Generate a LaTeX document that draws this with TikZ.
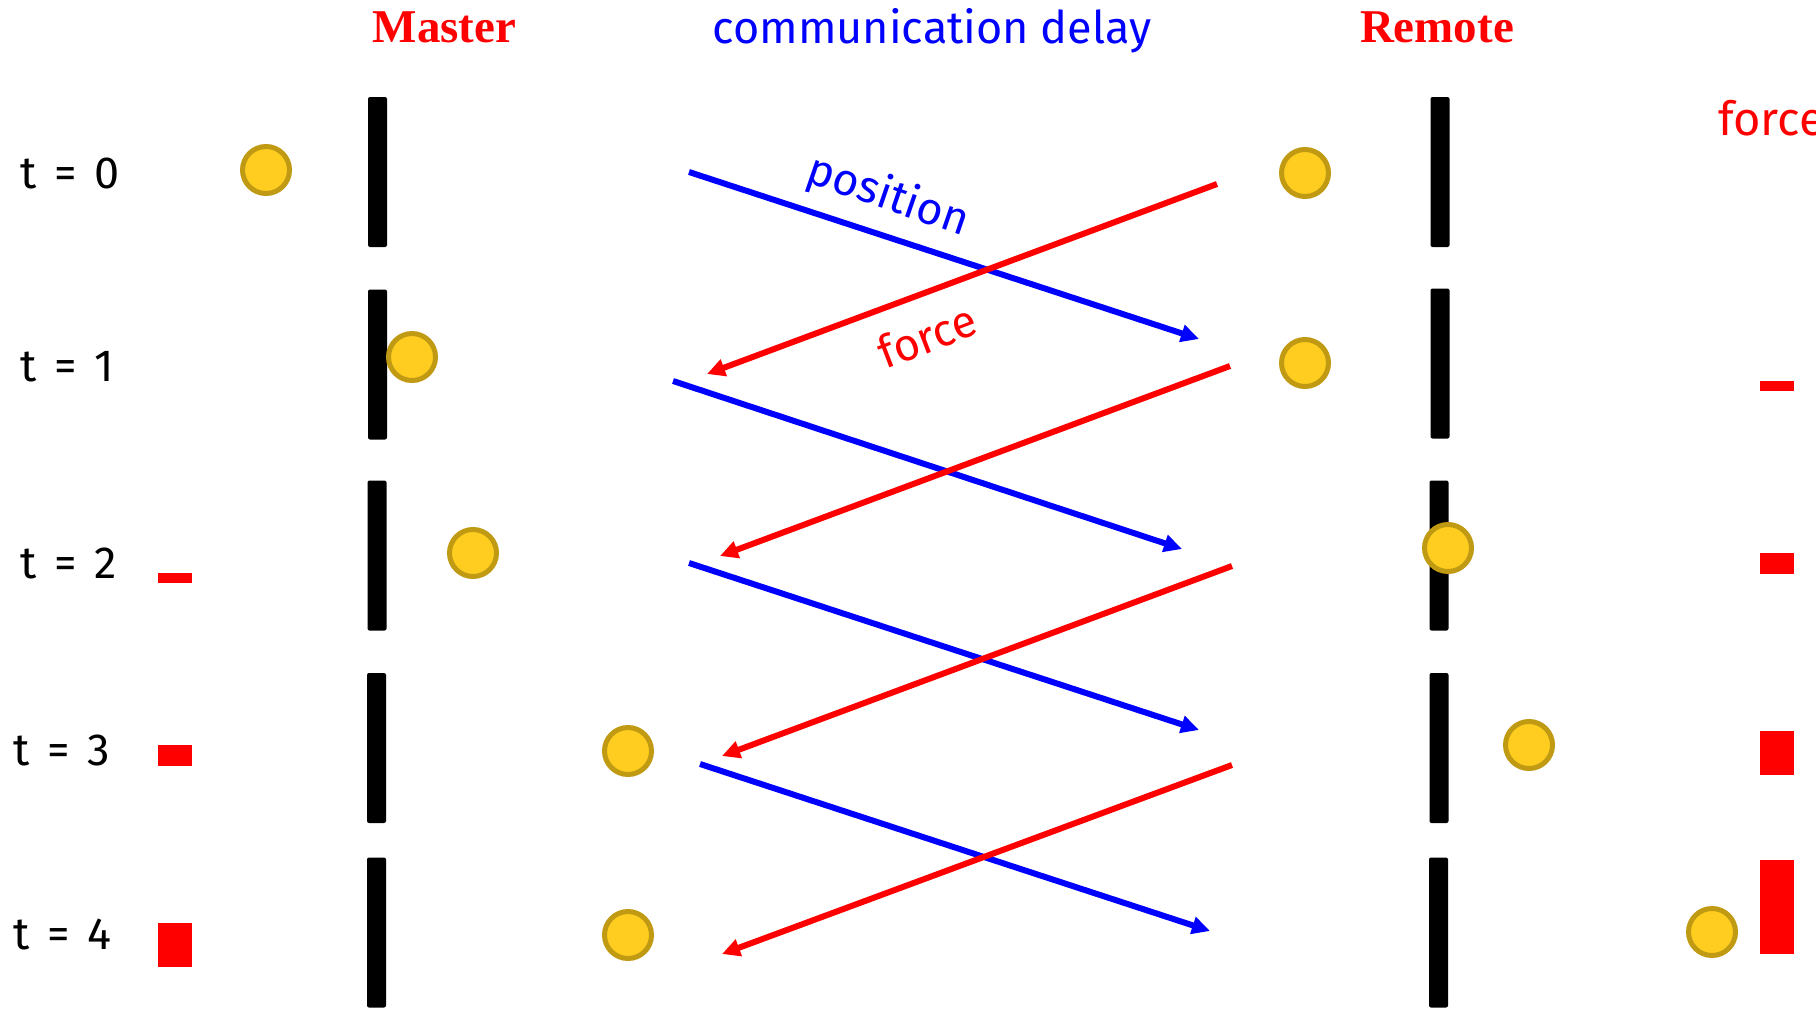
\documentclass[tikz,border=0pt]{standalone}
\usepackage{fontspec}
\setmainfont{Fira Sans}
\newfontfamily\titlefont{Liberation Serif}
\usetikzlibrary{arrows.meta}
\definecolor{ballfill}{RGB}{255,205,32}
\definecolor{balldraw}{RGB}{192,154,18}
\newcommand{\tsp}{\hspace{0.4em}}
\begin{document}
\begin{tikzpicture}[x=1pt,y=-1pt,
  wall/.style={rectangle, fill=black, rounded corners=2pt, minimum width=19pt, minimum height=150pt, inner sep=0pt},
  ball/.style={circle, fill=ballfill, draw=balldraw, line width=5pt, minimum size=47pt, inner sep=0pt},
  fbar/.style={rectangle, fill=red, inner sep=0pt, minimum width=34pt},
  tlabel/.style={anchor=base west, inner sep=0pt, font=\fontsize{45}{50}\selectfont},
  head/.style={anchor=base, inner sep=0pt, text=red, font=\titlefont\bfseries\fontsize{47}{50}\selectfont},
  posarrow/.style={line width=6pt, blue, -{Triangle[length=18pt,width=17pt]}},
  forcearrow/.style={line width=6pt, red, -{Triangle[length=18pt,width=17pt]}},
]
\useasboundingbox (0,0) rectangle (1816,1009);
\clip (0,0) rectangle (1816,1009);

% headers
\node[head] (master) at (444.5,42) {Master};
\node[head] (remote) at (1437,42) {Remote};
\node[anchor=base, inner sep=0pt, text=blue, font=\fontsize{45}{50}\selectfont] (delay) at (932,43) {communication delay};
\node[anchor=base west, inner sep=0pt, text=red, font=\fontsize{47}{50}\selectfont] (forcetop) at (1718,135) {force};

% time labels
\node[tlabel] (t0) at (20,188) {t\tsp=\tsp0};
\node[tlabel] (t1) at (20,381) {t\tsp=\tsp1};
\node[tlabel] (t2) at (20,578) {t\tsp=\tsp2};
\node[tlabel] (t3) at (13,765) {t\tsp=\tsp3};
\node[tlabel] (t4) at (13,949) {t\tsp=\tsp4};

% walls
\node[wall] (mw0) at (377.5,172) {};
\node[wall] (mw1) at (377.5,364.5) {};
\node[wall] (mw2) at (377,555.5) {};
\node[wall] (mw3) at (376.5,748) {};
\node[wall] (mw4) at (376.5,932.5) {};
\node[wall] (rw0) at (1440,172) {};
\node[wall] (rw1) at (1440,363.5) {};
\node[wall] (rw2) at (1439,555.5) {};
\node[wall] (rw3) at (1439,748) {};
\node[wall] (rw4) at (1438.5,932.5) {};

% force bars
\node[fbar, minimum height=10pt] (lf2) at (175,578) {};
\node[fbar, minimum height=21pt] (lf3) at (175,755.5) {};
\node[fbar, minimum height=44pt] (lf4) at (175,945) {};
\node[fbar, minimum height=10pt] (rf1) at (1777,386) {};
\node[fbar, minimum height=21pt] (rf2) at (1777,563.5) {};
\node[fbar, minimum height=44pt] (rf3) at (1777,753) {};
\node[fbar, minimum height=94pt] (rf4) at (1777,907) {};

% balls
\node[ball] (mb0) at (266,170) {};
\node[ball] (mb1) at (412,357) {};
\node[ball] (mb2) at (473,553) {};
\node[ball] (mb3) at (628,751) {};
\node[ball] (mb4) at (628,935) {};
\node[ball] (rb0) at (1305,173) {};
\node[ball] (rb1) at (1305,363) {};
\node[ball] (rb2) at (1448,548) {};
\node[ball] (rb3) at (1529,745) {};
\node[ball] (rb4) at (1712,932) {};

% arrow end points
\coordinate (b1s) at (689,172);  \coordinate (b1e) at (1199,339);
\coordinate (r1s) at (1217,184); \coordinate (r1e) at (707,374);
\coordinate (b2s) at (673,381);  \coordinate (b2e) at (1182,549);
\coordinate (r2s) at (1230,366); \coordinate (r2e) at (720,556);
\coordinate (b3s) at (689,563);  \coordinate (b3e) at (1199,730);
\coordinate (r3s) at (1232,566); \coordinate (r3e) at (722,756);
\coordinate (b4s) at (700,764);  \coordinate (b4e) at (1210,931);
\coordinate (r4s) at (1232,765); \coordinate (r4e) at (722,954);

\draw[posarrow] (b1s) -- (b1e);
\draw[forcearrow] (r1s) -- (r1e);
\draw[posarrow] (b2s) -- (b2e);
\draw[forcearrow] (r2s) -- (r2e);
\draw[posarrow] (b3s) -- (b3e);
\draw[forcearrow] (r3s) -- (r3e);
\draw[posarrow] (b4s) -- (b4e);
\draw[forcearrow] (r4s) -- (r4e);

% arrow labels
\node[inner sep=0pt, text=blue, rotate=-19, font=\fontsize{45}{50}\selectfont] (poslab) at (888,197) {position};
\node[inner sep=0pt, text=red, rotate=21, font=\fontsize{45}{50}\selectfont] (frclab) at (927,336) {force};
\end{tikzpicture}
\end{document}
